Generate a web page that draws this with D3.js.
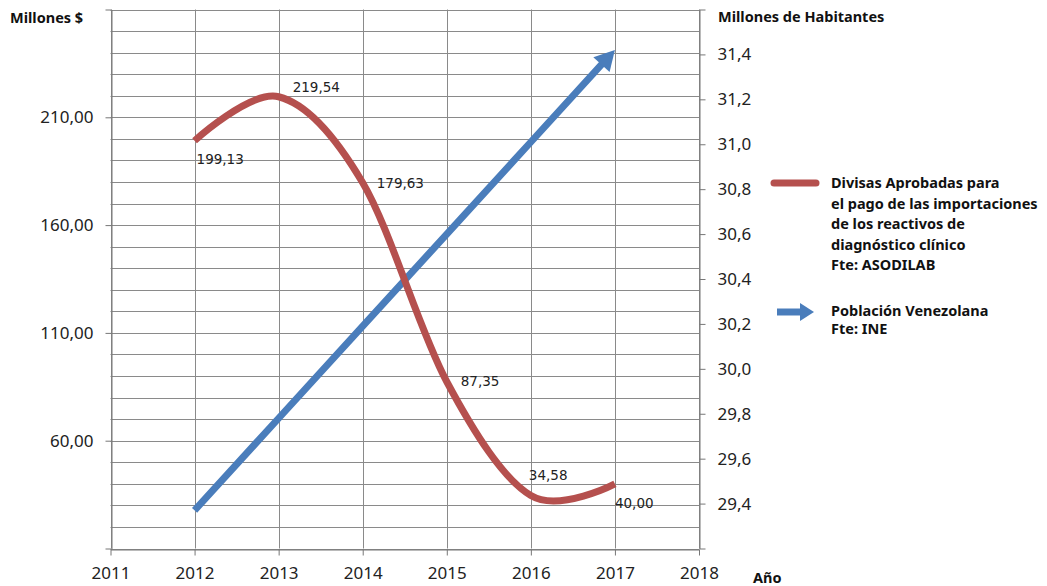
<!DOCTYPE html>
<html lang="es">

<head>
    <meta charset="UTF-8">
    <title>Divisas y Población</title>
    <script src="https://d3js.org/d3.v7.min.js"></script>
    <style>
        body { margin: 0; background: #fff; }
        .tick text { font-family: "Noto Sans", sans-serif; font-size: 17px; fill: #222; }
        .title { font-family: "Noto Sans", sans-serif; font-size: 14.5px; font-weight: bold; fill: #111; }
        .value-label { font-family: "DejaVu Sans", sans-serif; font-size: 13.5px; fill: #222; }
        .legend text { font-family: "Noto Sans", sans-serif; font-size: 14.5px; font-weight: bold; fill: #111; }
    </style>
</head>

<body>
    <svg id="chart" width="1047" height="586"></svg>

    <script>
        // datos
        const years = [2012, 2013, 2014, 2015, 2016, 2017];
        const divisas = [199.13, 219.54, 179.63, 87.35, 34.58, 40.00];
        const poblacion = [29.37, 29.78, 30.19, 30.60, 31.01, 31.42];
        const yearTicks = [2011, 2012, 2013, 2014, 2015, 2016, 2017, 2018];
        const leftTicks = [60, 110, 160, 210];
        const rightTicks = [29.4, 29.6, 29.8, 30.0, 30.2, 30.4, 30.6, 30.8, 31.0, 31.2, 31.4];
        const legendDivisas = ["Divisas Aprobadas para", "el pago de las importaciones", "de los reactivos de", "diagnóstico clínico", "Fte: ASODILAB"];
        const legendPoblacion = ["Población Venezolana", "Fte: INE"];

        const red = "#b5504e";
        const blue = "#4a7dbb";
        const gridColor = "#8a8a8a";

        const svg = d3.select("#chart");
        const margin = { top: 9.5, right: 348, bottom: 37.5, left: 110.5 };
        const width = +svg.attr("width");
        const height = +svg.attr("height");

        const es = d3.formatLocale({ decimal: ",", thousands: ".", grouping: [3], currency: ["", "$"] });

        const x = d3.scaleLinear().domain([2011, 2018]).range([margin.left, width - margin.right]);
        const yL = d3.scaleLinear().domain([10, 260]).range([height - margin.bottom, margin.top]);
        const yR = d3.scaleLinear().domain([29.2, 31.6]).range([height - margin.bottom, margin.top]);

        // rejilla
        svg.append("g").selectAll("line")
            .data(d3.range(10, 261, 10))
            .enter().append("line")
            .attr("x1", x(2011)).attr("x2", x(2018))
            .attr("y1", d => Math.round(yL(d)) + 0.5).attr("y2", d => Math.round(yL(d)) + 0.5)
            .attr("stroke", gridColor).attr("stroke-width", 1);

        svg.append("g").selectAll("line")
            .data(yearTicks)
            .enter().append("line")
            .attr("x1", d => Math.round(x(d)) + 0.5).attr("x2", d => Math.round(x(d)) + 0.5)
            .attr("y1", yL(260)).attr("y2", yL(10))
            .attr("stroke", gridColor).attr("stroke-width", 1);

        // ejes
        const axisStyle = g => {
            g.selectAll(".domain").attr("stroke", "#777");
            g.selectAll(".tick line").attr("stroke", "#777");
        };

        svg.append("g")
            .attr("transform", `translate(${Math.round(x(2011)) + 0.5},0)`)
            .call(d3.axisLeft(yL)
                .tickValues([10, ...leftTicks, 260])
                .tickSize(6).tickSizeOuter(0).tickPadding(12)
                .tickFormat(d => leftTicks.includes(d) ? es.format(".2f")(d) : ""))
            .call(axisStyle);

        svg.append("g")
            .attr("transform", `translate(${Math.round(x(2018)) + 0.5},0)`)
            .call(d3.axisRight(yR)
                .tickValues([29.2, ...rightTicks, 31.6])
                .tickSize(6).tickSizeOuter(0).tickPadding(12)
                .tickFormat(d => rightTicks.some(t => Math.abs(t - d) < 1e-9) ? es.format(".1f")(d) : ""))
            .call(axisStyle);

        svg.append("g")
            .attr("transform", `translate(0,${Math.round(yL(10)) + 0.5})`)
            .call(d3.axisBottom(x)
                .tickValues(yearTicks)
                .tickSize(6).tickSizeOuter(0).tickPadding(11)
                .tickFormat(d3.format("d")))
            .call(axisStyle);

        // títulos
        svg.append("text").attr("class", "title").attr("x", 10).attr("y", 23).text("Millones $");
        svg.append("text").attr("class", "title").attr("x", 718).attr("y", 22).text("Millones de Habitantes");
        svg.append("text").attr("class", "title").attr("x", 753).attr("y", 583).text("Año");

        // línea de población con flecha
        const pts = years.map((d, i) => [x(d), yR(poblacion[i])]);
        const tip = pts[pts.length - 1];
        const prev = pts[pts.length - 2];
        const ang = Math.atan2(tip[1] - prev[1], tip[0] - prev[0]);
        const headLen = 20, headW = 11;
        const base = [tip[0] - headLen * Math.cos(ang), tip[1] - headLen * Math.sin(ang)];
        const shaft = pts.slice(0, -1).concat([[base[0] + 2 * Math.cos(ang), base[1] + 2 * Math.sin(ang)]]);

        svg.append("path")
            .attr("d", d3.line()(shaft))
            .attr("fill", "none").attr("stroke", blue).attr("stroke-width", 7);

        svg.append("path")
            .attr("d", d3.line()([
                tip,
                [base[0] + headW * Math.sin(ang), base[1] - headW * Math.cos(ang)],
                [base[0] - headW * Math.sin(ang), base[1] + headW * Math.cos(ang)]
            ]) + "Z")
            .attr("fill", blue);

        // línea de divisas (suavizada)
        svg.append("path")
            .datum(years.map((d, i) => [x(d), yL(divisas[i])]))
            .attr("d", d3.line().curve(d3.curveCardinal.tension(0)))
            .attr("fill", "none").attr("stroke", red).attr("stroke-width", 7)
            .attr("stroke-linecap", "butt");

        // etiquetas de valores
        const labelOffsets = [[2, 19], [14, -9], [14, 0], [14, 0], [-2, -20], [0, 19]];
        svg.selectAll(".value-label")
            .data(divisas)
            .enter().append("text")
            .attr("class", "value-label")
            .attr("x", (d, i) => x(years[i]) + labelOffsets[i][0])
            .attr("y", (d, i) => yL(d) + labelOffsets[i][1])
            .attr("dy", "0.35em")
            .text(d => es.format(".2f")(d));

        // leyenda
        const legend = svg.append("g").attr("class", "legend");
        legend.append("line")
            .attr("x1", 774).attr("x2", 816).attr("y1", 183).attr("y2", 183)
            .attr("stroke", red).attr("stroke-width", 7).attr("stroke-linecap", "round");
        legend.selectAll(".ld")
            .data(legendDivisas)
            .enter().append("text")
            .attr("class", "ld")
            .attr("x", 831).attr("y", (d, i) => 183 + i * 20.5)
            .attr("dy", "0.35em")
            .text(d => d);

        legend.append("line")
            .attr("x1", 777).attr("x2", 802).attr("y1", 312).attr("y2", 312)
            .attr("stroke", blue).attr("stroke-width", 7);
        legend.append("path")
            .attr("d", "M800,303L814,312L800,321Z")
            .attr("fill", blue);
        legend.selectAll(".lp")
            .data(legendPoblacion)
            .enter().append("text")
            .attr("class", "lp")
            .attr("x", 831).attr("y", (d, i) => 311 + i * 18)
            .attr("dy", "0.35em")
            .text(d => d);
    </script>
</body>

</html>
